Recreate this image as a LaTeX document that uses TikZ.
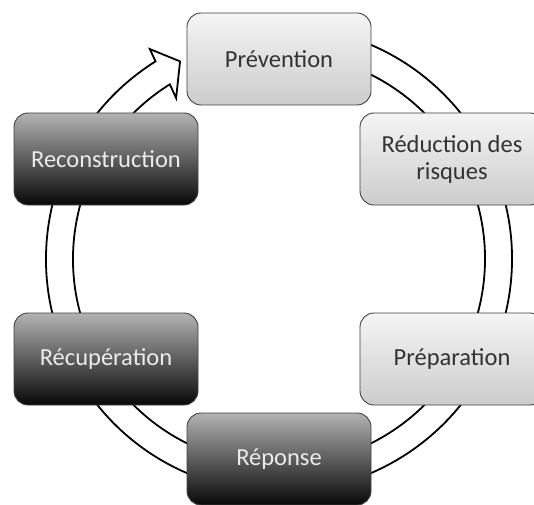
\documentclass[tikz,border=0pt]{standalone}
\usepackage{fontspec}
\setmainfont{Carlito}
\usetikzlibrary{shadings}

\begin{document}
\begin{tikzpicture}[x=1pt,y=1pt,
    phase/.style={rounded corners=14pt,draw=black!75,line width=0.9pt,
        minimum width=184pt,minimum height=92pt,align=center,
        font=\fontsize{24.5}{27}\selectfont},
    lightphase/.style={phase,top color=black!4,bottom color=black!20,text=black!80},
    darkphase/.style={phase,top color=black!30,middle color=black!58,bottom color=black!97,text=black!8}]
                \useasboundingbox (0,0) rectangle (534,504);
                \coordinate (c) at (279,245);
                \draw[line width=1.8pt,fill=white,shift={(c)}] (80:233) arc[start angle=80,end angle=-238,radius=233]
                    -- (-238.4:246.5) -- (-243.4:221) -- (-237.4:191) -- (-238:206)
                    arc[start angle=-238,end angle=80,radius=206] -- cycle;
                \node[lightphase] (prevention) at (279,445) {Prévention};
                \node[lightphase] (reduction) at (452,345) {Réduction des\\risques};
                \node[lightphase] (preparation) at (452,145) {Préparation};
                \node[darkphase] (reponse) at (279,45) {Réponse};
                \node[darkphase] (recuperation) at (106,145) {Récupération};
                \node[darkphase] (reconstruction) at (106,345) {Reconstruction};
            \end{tikzpicture}
\end{document}
